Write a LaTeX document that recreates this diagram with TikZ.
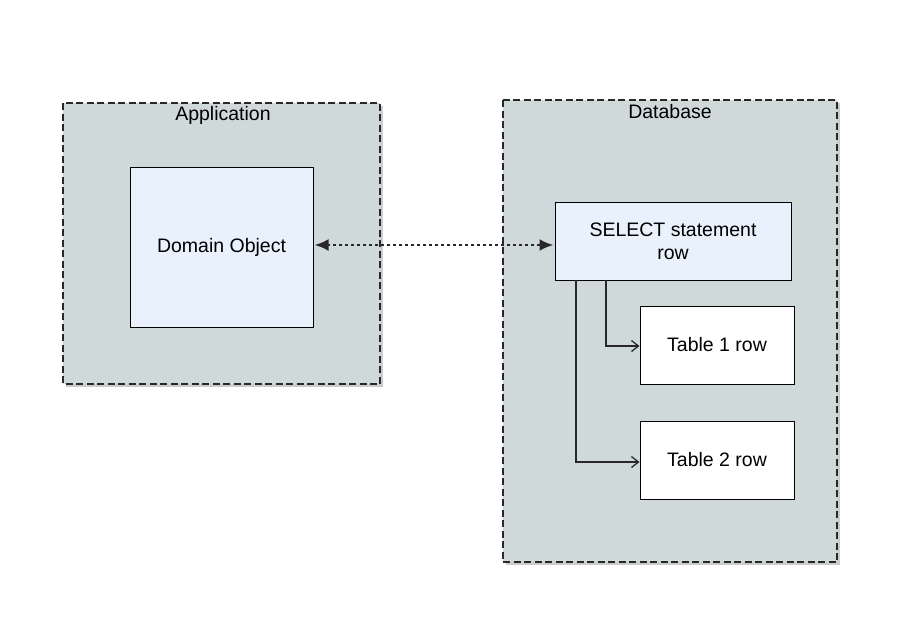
\documentclass[tikz,border=0pt]{standalone}
\usepackage{fontspec}
\setmainfont{Liberation Sans}
\usetikzlibrary{arrows.meta,shadows}
\definecolor{contfill}{RGB}{208,217,217}
\definecolor{boxfill}{RGB}{232,241,252}
\definecolor{linecol}{RGB}{40,40,40}
\tikzset{
  container/.style={draw=linecol, fill=contfill, dash pattern=on 7pt off 3.5pt, line width=2pt,
    drop shadow={shadow xshift=2.5pt, shadow yshift=-2.5pt, fill=black, opacity=0.2}},
  entity/.style={draw=black, line width=1pt},
  conn/.style={draw=linecol, line width=1.3pt, -{Straight Barb[length=7pt,width=11pt,line width=1.3pt]}},
  lbl/.style={font=\fontsize{19.5}{23}\selectfont, align=center, text=black},
}
\begin{document}
\begin{tikzpicture}[x=1pt,y=-1pt]
\useasboundingbox (0,0) rectangle (900,630);
\fill[white] (0,0) rectangle (900,630);
% containers
\draw[container] (63,103) rectangle (380,384);
\draw[container] (503,100) rectangle (837,562);
\node[lbl] (apptitle) at (223,115) {Application};
\node[lbl] (dbtitle) at (670,112) {Database};
% boxes
\node[entity, fill=boxfill, minimum width=183pt, minimum height=160pt, lbl] (dom) at (221.5,247) {Domain Object};
\node[entity, fill=boxfill, minimum width=236pt, minimum height=78pt, lbl] (sel) at (673,241) {SELECT statement\\row};
\node[entity, fill=white, minimum width=154pt, minimum height=78pt, lbl] (t1) at (717,345) {Table 1 row};
\node[entity, fill=white, minimum width=154pt, minimum height=78pt, lbl] (t2) at (717,460) {Table 2 row};
% connectors
\coordinate (s1) at (606,280);
\coordinate (s2) at (576,280);
\draw[conn] (s1) |- (t1.west |- 0,346);
\draw[conn] (s2) |- (t2.west |- 0,462);
\coordinate (da) at (dom.east |- 0,245);
\coordinate (db) at (sel.west |- 0,245);
\draw[line width=2.5pt, dash pattern=on 2.5pt off 3.5pt, linecol, {Latex[length=14pt,width=12pt]}-{Latex[length=14pt,width=12pt]}, shorten <=1pt, shorten >=1pt] (da) -- (db);
\end{tikzpicture}
\end{document}
